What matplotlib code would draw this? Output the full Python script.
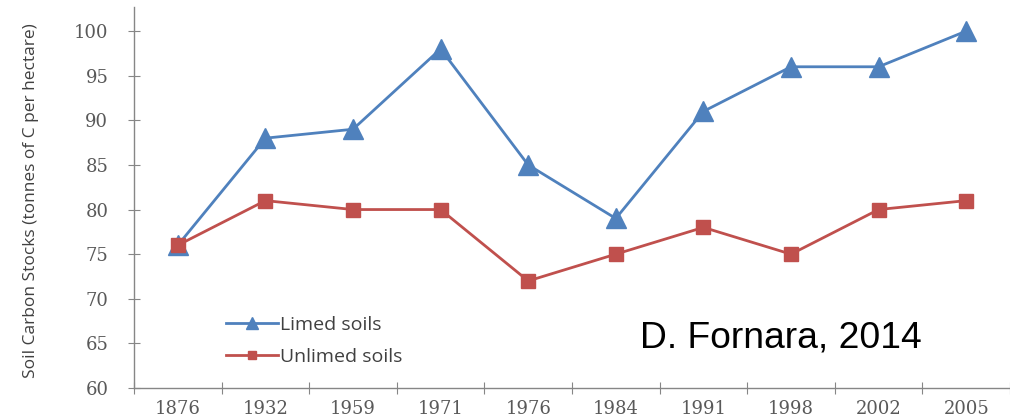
import matplotlib
matplotlib.use("Agg")
import matplotlib.pyplot as plt

years = ["1876", "1932", "1959", "1971", "1976", "1984", "1991", "1998", "2002", "2005"]
limed = [76, 88, 89, 98, 85, 79, 91, 96, 96, 100]
unlimed = [76, 81, 80, 80, 72, 75, 78, 75, 80, 81]
yticks = [60, 65, 70, 75, 80, 85, 90, 95, 100]

W, H = 1010, 420
fig = plt.figure(figsize=(W / 100, H / 100), dpi=100)
ax = fig.add_axes([134 / W, 32 / H, 876 / W, 381 / H])

x = list(range(len(years)))
blue = "#4F81BD"
red = "#C0504D"
l1, = ax.plot(x, limed, color=blue, lw=2.0, marker="^", ms=15, mec=blue, mfc=blue, clip_on=False, zorder=3)
l2, = ax.plot(x, unlimed, color=red, lw=2.0, marker="s", ms=10, mec=red, mfc=red, clip_on=False, zorder=3)

ax.set_xlim(-0.5, len(years) - 0.5)
ax.set_ylim(60, 102.7)
ax.set_yticks(yticks)
ax.set_yticklabels([str(v) for v in yticks])
ax.set_xticks(x)
ax.set_xticklabels(years)
ax.set_xticks([i - 0.5 for i in range(len(years) + 1)], minor=True)

grey = "#868686"
for s in ["top", "right"]:
    ax.spines[s].set_visible(False)
for s in ["left", "bottom"]:
    ax.spines[s].set_color(grey)
    ax.spines[s].set_linewidth(1.0)

ax.tick_params(axis="y", which="major", direction="inout", length=9, color=grey, width=0.8,
               labelcolor="#595959", pad=14, labelsize=13)
ax.tick_params(axis="x", which="major", length=0, labelcolor="#595959", pad=9, labelsize=13)
ax.tick_params(axis="x", which="minor", direction="inout", length=9, color=grey, width=0.8)
for lab in ax.get_xticklabels() + ax.get_yticklabels():
    lab.set_family("DejaVu Serif")

fig.text(31 / W, (H - 201) / H, "Soil Carbon Stocks (tonnes of C per hectare)", family="Open Sans",
         fontsize=12.5, color="#404040", rotation=90, ha="center", va="center")

leg = ax.legend([l1, l2], ["Limed soils", "Unlimed soils"], loc="center left",
                bbox_to_anchor=(208 / W, (H - 341) / H), bbox_transform=fig.transFigure,
                frameon=False, handlelength=2.7, handletextpad=0.1, labelspacing=0.75,
                markerscale=0.55, prop=dict(family="Open Sans", size=14))
for t in leg.get_texts():
    t.set_color("#404040")

fig.text(640 / W, (H - 347) / H, "D. Fornara, 2014", family="Liberation Sans", fontsize=26.8,
         color="black", ha="left", va="baseline")

fig.savefig("out.png", dpi=100)
